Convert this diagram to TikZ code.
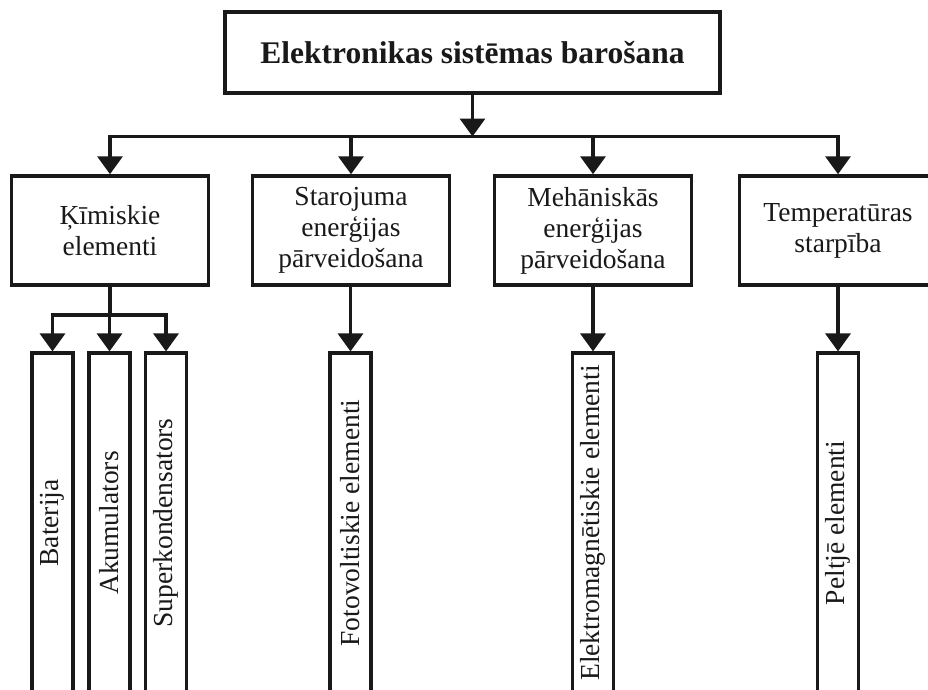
\documentclass[tikz,border=0pt]{standalone}
\usepackage{fontspec}
\setmainfont{Liberation Serif}
\usetikzlibrary{arrows.meta}
\begin{document}
\begin{tikzpicture}[x=1pt,y=-1pt,
  box/.style={draw=black!90, fill=white, align=center, inner sep=0pt, text=black!90},
  topbox/.style={box, line width=4pt, minimum width=495pt, minimum height=81pt,
    font=\fontsize{31.5}{36}\selectfont\bfseries},
  catbox/.style={box, line width=3.5pt, minimum width=197pt, minimum height=109pt,
    font=\fontsize{27.5}{31}\selectfont},
  leafbox/.style={box, line width=3.2pt, minimum width=41pt, minimum height=340pt,
    font=\fontsize{27.5}{30}\selectfont},
  link/.style={line width=3.5pt, draw=black!90},
  arr/.style={link, -{Triangle[width=25pt,length=18pt]}},
]
\useasboundingbox (0,0) rectangle (928,689);
\clip (0,0) rectangle (928,689);
\fill[white] (0,0) rectangle (928,689);

% root
\node[topbox] (root) at (472.5,52.5) {Elektronikas sistēmas barošana};

% categories
\node[catbox] (chem) at (110,230.5) {Ķīmiskie\\elementi};
\node[catbox] (rad)  at (351,230.5) {Starojuma\\enerģijas\\pārveidošana};
\node[catbox] (mech) at (593,230.5) {Mehāniskās\\enerģijas\\pārveidošana};
\node[catbox] (temp) at (838,230.5) {Temperatūras\\starpība};

% leaves
\node[leafbox] (bat)   at (52.5,523)  {\rotatebox{90}{Baterija}};
\node[leafbox] (akum)  at (109.5,523) {\rotatebox{90}{Akumulators}};
\node[leafbox] (super) at (166,523)   {\rotatebox{90}{Superkondensators}};
\node[leafbox] (foto)  at (350.5,523) {\rotatebox{90}{Fotovoltiskie elementi}};
\node[leafbox] (elmag) at (593,523)   {\rotatebox{90}{Elektromagnētiskie elementi}};
\node[leafbox] (pelt)  at (838,523)   {\rotatebox{90}{Peltjē elementi}};

% root to categories
\coordinate (bus) at (472.5,136.5);
\draw[arr] (root.south) -- (bus);
\draw[arr] (bus) -| (chem.north);
\draw[arr] (bus) -| (temp.north);
\draw[arr] (rad.north |- bus) -- (rad.north);
\draw[arr] (mech.north |- bus) -- (mech.north);

% chemical sources
\coordinate (chembus) at (110,315);
\draw[link] (chem.south) -- (chembus);
\draw[arr] (chembus) -| (bat.north);
\draw[arr] (chembus) -| (super.north);
\draw[arr] (chembus -| akum.north) -- (akum.north);

% other categories
\draw[arr] (rad.south -| foto.north) -- (foto.north);
\draw[arr] (mech.south) -- (elmag.north);
\draw[arr] (temp.south) -- (pelt.north);
\end{tikzpicture}
\end{document}
